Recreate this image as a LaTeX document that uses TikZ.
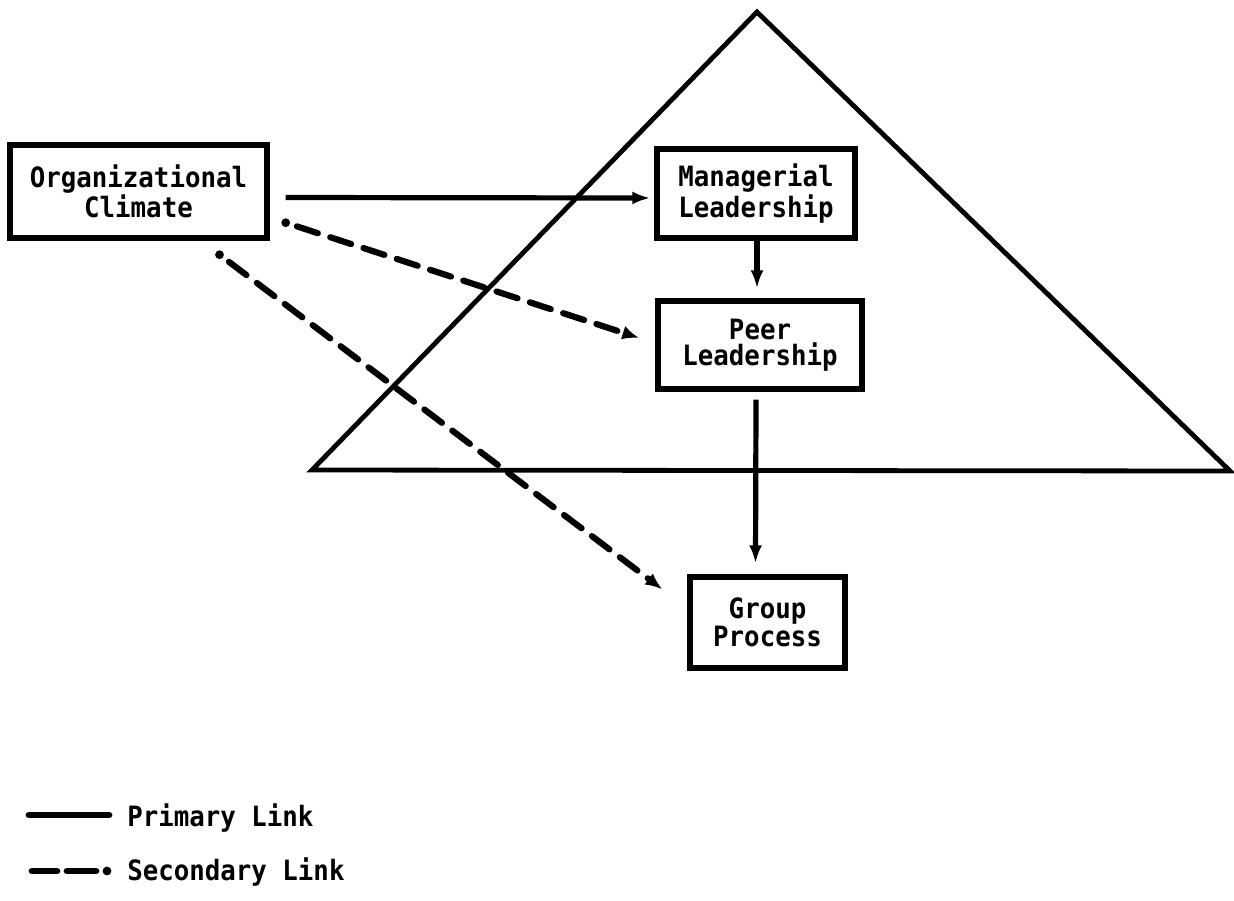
\documentclass[tikz,border=0pt]{standalone}
\usepackage{fontspec}
\setmonofont[FakeStretch=0.92]{DejaVu Sans Mono}
\usetikzlibrary{arrows.meta,calc}

\begin{document}
\begin{tikzpicture}[x=0.5pt,y=-0.5pt,
  txt/.style={font=\ttfamily\bfseries\fontsize{14}{12.8}\selectfont},
  box/.style={txt, draw, line width=2.7pt, align=center, inner sep=0pt},
  primary/.style={line width=2.6pt, -{Latex[length=9pt,width=6.5pt]}},
  secondary/.style={line width=3.1pt, line cap=round, dash pattern=on 11pt off 6.5pt,
                    shorten <=3.5pt, -{Latex[length=8.5pt,width=7pt]}},
  tail/.style={circle, fill, inner sep=0pt, minimum size=4.4pt},
  frame/.style={line width=2.4pt, line join=miter},
  legline/.style={line width=3.4pt, line cap=round}]

\useasboundingbox (0,0) rectangle (1234,900);

% leadership triangle
\coordinate (apex) at (757,12);
\coordinate (bl) at (312,470);
\coordinate (br) at (1230,471);
\draw[frame] (apex) -- (br) -- (bl) -- cycle;

% boxes
\node[box, minimum width=128.5pt, minimum height=46.5pt] (org) at (138.5,191.5)
  {Organizational\\Climate};
\node[box, minimum width=99pt, minimum height=44.5pt] (man) at (756,193.5)
  {Managerial\\Leadership};
\node[box, minimum width=102pt, minimum height=44pt] (peer) at (760,345)
  {Peer\\Leadership};
\node[box, minimum width=77.5pt, minimum height=45.5pt] (grp) at (767.5,622.5)
  {Group\\Process};

% primary links
\draw[primary] ($(org.east)+(16,6)$) -- ($(man.west)+(-4,4.5)$);
\draw[primary] ($(man.south)+(1,0)$) -- ($(peer.north)+(-3,-10)$);
\draw[primary] ($(peer.south)+(-4,8)$) -- ($(grp.north)+(-12,-11)$);

% secondary links
\node[tail] (t1) at ($(org.south east)+(16,-18)$) {};
\draw[secondary] (t1) -- ($(peer.west)+(-16,-7)$);
\node[tail] (t2) at ($(org.south)+(81,14)$) {};
\draw[secondary] (t2) -- ($(grp.north west)+(-25,15)$);

% legend
\node[txt, anchor=west, inner sep=0pt] (prim) at (127,818) {Primary Link};
\coordinate (p0) at (29,815);
\draw[legline] (p0) -- ($(prim.west)+(-18,-3)$);

\node[txt, anchor=west, inner sep=0pt] (sec) at (127,872) {Secondary Link};
\node[tail] (sd) at ($(sec.west)+(-20,-1)$) {};
\coordinate (s1) at ($(sd)+(-11,0)$);
\coordinate (s2) at ($(sd)+(-40,0)$);
\coordinate (s3) at ($(sd)+(-50,0)$);
\coordinate (s4) at ($(sd)+(-75,0)$);
\draw[legline] (s1) -- (s2);
\draw[legline] (s3) -- (s4);
\end{tikzpicture}
\end{document}
